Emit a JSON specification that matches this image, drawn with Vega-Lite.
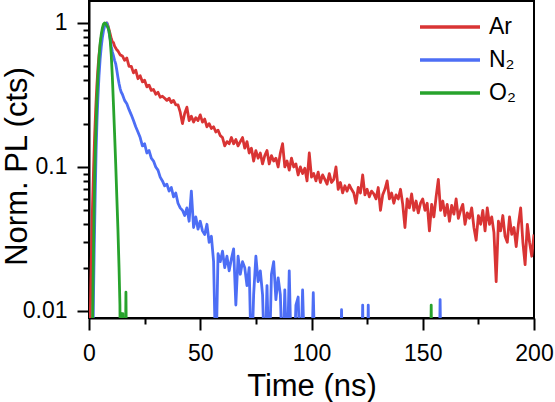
{
  "$schema": "https://vega.github.io/schema/vega-lite/v6.json",
  "width": 445,
  "height": 317,
  "autosize": {"type": "none"},
  "padding": {"left": 89, "top": 1, "right": 21, "bottom": 84},
  "config": {
    "font": "Liberation Sans",
    "view": {"stroke": "#000000", "strokeWidth": 2},
    "axis": {
      "grid": false,
      "domainColor": "#000000",
      "domainWidth": 2,
      "tickColor": "#000000",
      "tickWidth": 2,
      "labelColor": "#000000",
      "labelFontSize": 23,
      "titleColor": "#000000",
      "titleFontSize": 31,
      "titleFontWeight": "normal"
    }
  },
  "data": {"values": [
    {"g":"Ar","t":0,"v":0.003},{"g":"Ar","t":0.4,"v":0.006},{"g":"Ar","t":0.8,"v":0.015},{"g":"Ar","t":1.2,"v":0.03},{"g":"Ar","t":1.6,"v":0.055},{"g":"Ar","t":2,"v":0.09},{"g":"Ar","t":2.5,"v":0.16},{"g":"Ar","t":3,"v":0.25},{"g":"Ar","t":3.5,"v":0.36},{"g":"Ar","t":4,"v":0.48},{"g":"Ar","t":4.5,"v":0.6},{"g":"Ar","t":5,"v":0.7},{"g":"Ar","t":5.5,"v":0.79},{"g":"Ar","t":6,"v":0.87},{"g":"Ar","t":6.5,"v":0.93},{"g":"Ar","t":7,"v":0.97},{"g":"Ar","t":7.5,"v":0.99},{"g":"Ar","t":8,"v":1.0},{"g":"Ar","t":8.5,"v":0.96},{"g":"Ar","t":9,"v":0.9},{"g":"Ar","t":9.5,"v":0.84},{"g":"Ar","t":10,"v":0.78},{"g":"Ar","t":10.5,"v":0.74},{"g":"Ar","t":11,"v":0.73},{"g":"Ar","t":11.5,"v":0.69},{"g":"Ar","t":12,"v":0.67},{"g":"Ar","t":12.5,"v":0.65},{"g":"Ar","t":13,"v":0.64},{"g":"Ar","t":14,"v":0.6},{"g":"Ar","t":15,"v":0.59},{"g":"Ar","t":16,"v":0.55},{"g":"Ar","t":17,"v":0.57},{"g":"Ar","t":18,"v":0.5},{"g":"Ar","t":19,"v":0.5},{"g":"Ar","t":20,"v":0.45},{"g":"Ar","t":21,"v":0.47},{"g":"Ar","t":22,"v":0.41},{"g":"Ar","t":23,"v":0.43},{"g":"Ar","t":24,"v":0.39},{"g":"Ar","t":25,"v":0.4},{"g":"Ar","t":26,"v":0.36},{"g":"Ar","t":27,"v":0.37},{"g":"Ar","t":28,"v":0.34},{"g":"Ar","t":29,"v":0.345},{"g":"Ar","t":30,"v":0.32},{"g":"Ar","t":31,"v":0.33},{"g":"Ar","t":32,"v":0.305},{"g":"Ar","t":33,"v":0.31},{"g":"Ar","t":34,"v":0.3},{"g":"Ar","t":35,"v":0.29},{"g":"Ar","t":36,"v":0.3},{"g":"Ar","t":37,"v":0.28},{"g":"Ar","t":38,"v":0.29},{"g":"Ar","t":39,"v":0.27},{"g":"Ar","t":40,"v":0.27},{"g":"Ar","t":41,"v":0.24},{"g":"Ar","t":42,"v":0.2},{"g":"Ar","t":43,"v":0.235},{"g":"Ar","t":44,"v":0.26},{"g":"Ar","t":45,"v":0.21},{"g":"Ar","t":46,"v":0.225},{"g":"Ar","t":47,"v":0.205},{"g":"Ar","t":48,"v":0.22},{"g":"Ar","t":49,"v":0.21},{"g":"Ar","t":50,"v":0.23},{"g":"Ar","t":51,"v":0.205},{"g":"Ar","t":52,"v":0.215},{"g":"Ar","t":53,"v":0.19},{"g":"Ar","t":54,"v":0.2},{"g":"Ar","t":55,"v":0.185},{"g":"Ar","t":56,"v":0.19},{"g":"Ar","t":57,"v":0.175},{"g":"Ar","t":58,"v":0.18},{"g":"Ar","t":59,"v":0.165},{"g":"Ar","t":60,"v":0.16},{"g":"Ar","t":61,"v":0.14},{"g":"Ar","t":62,"v":0.15},{"g":"Ar","t":63,"v":0.145},{"g":"Ar","t":64,"v":0.16},{"g":"Ar","t":65,"v":0.145},{"g":"Ar","t":66,"v":0.155},{"g":"Ar","t":67,"v":0.14},{"g":"Ar","t":68,"v":0.15},{"g":"Ar","t":69,"v":0.16},{"g":"Ar","t":70,"v":0.135},{"g":"Ar","t":71,"v":0.15},{"g":"Ar","t":72,"v":0.125},{"g":"Ar","t":73,"v":0.135},{"g":"Ar","t":74,"v":0.11},{"g":"Ar","t":75,"v":0.13},{"g":"Ar","t":76,"v":0.115},{"g":"Ar","t":77,"v":0.125},{"g":"Ar","t":78,"v":0.105},{"g":"Ar","t":79,"v":0.12},{"g":"Ar","t":80,"v":0.13},{"g":"Ar","t":81,"v":0.105},{"g":"Ar","t":82,"v":0.12},{"g":"Ar","t":83,"v":0.11},{"g":"Ar","t":84,"v":0.115},{"g":"Ar","t":85,"v":0.1},{"g":"Ar","t":86,"v":0.125},{"g":"Ar","t":87,"v":0.145},{"g":"Ar","t":88,"v":0.1},{"g":"Ar","t":89,"v":0.11},{"g":"Ar","t":90,"v":0.095},{"g":"Ar","t":91,"v":0.115},{"g":"Ar","t":92,"v":0.1},{"g":"Ar","t":93,"v":0.105},{"g":"Ar","t":94,"v":0.088},{"g":"Ar","t":95,"v":0.1},{"g":"Ar","t":96,"v":0.09},{"g":"Ar","t":97,"v":0.098},{"g":"Ar","t":98,"v":0.08},{"g":"Ar","t":99,"v":0.125},{"g":"Ar","t":100,"v":0.085},{"g":"Ar","t":101,"v":0.09},{"g":"Ar","t":102,"v":0.08},{"g":"Ar","t":103,"v":0.092},{"g":"Ar","t":104,"v":0.078},{"g":"Ar","t":105,"v":0.088},{"g":"Ar","t":106,"v":0.082},{"g":"Ar","t":107,"v":0.076},{"g":"Ar","t":108,"v":0.09},{"g":"Ar","t":109,"v":0.078},{"g":"Ar","t":110,"v":0.082},{"g":"Ar","t":111,"v":0.1},{"g":"Ar","t":112,"v":0.07},{"g":"Ar","t":113,"v":0.078},{"g":"Ar","t":114,"v":0.066},{"g":"Ar","t":115,"v":0.074},{"g":"Ar","t":116,"v":0.068},{"g":"Ar","t":117,"v":0.075},{"g":"Ar","t":118,"v":0.07},{"g":"Ar","t":119,"v":0.066},{"g":"Ar","t":120,"v":0.056},{"g":"Ar","t":121,"v":0.072},{"g":"Ar","t":122,"v":0.066},{"g":"Ar","t":123,"v":0.088},{"g":"Ar","t":124,"v":0.064},{"g":"Ar","t":125,"v":0.07},{"g":"Ar","t":126,"v":0.062},{"g":"Ar","t":127,"v":0.068},{"g":"Ar","t":128,"v":0.065},{"g":"Ar","t":129,"v":0.06},{"g":"Ar","t":130,"v":0.072},{"g":"Ar","t":131,"v":0.05},{"g":"Ar","t":132,"v":0.064},{"g":"Ar","t":133,"v":0.07},{"g":"Ar","t":134,"v":0.08},{"g":"Ar","t":135,"v":0.06},{"g":"Ar","t":136,"v":0.066},{"g":"Ar","t":137,"v":0.056},{"g":"Ar","t":138,"v":0.064},{"g":"Ar","t":139,"v":0.06},{"g":"Ar","t":140,"v":0.07},{"g":"Ar","t":141,"v":0.055},{"g":"Ar","t":142,"v":0.038},{"g":"Ar","t":143,"v":0.06},{"g":"Ar","t":144,"v":0.052},{"g":"Ar","t":145,"v":0.065},{"g":"Ar","t":146,"v":0.05},{"g":"Ar","t":147,"v":0.058},{"g":"Ar","t":148,"v":0.048},{"g":"Ar","t":149,"v":0.056},{"g":"Ar","t":150,"v":0.06},{"g":"Ar","t":151,"v":0.05},{"g":"Ar","t":152,"v":0.056},{"g":"Ar","t":153,"v":0.036},{"g":"Ar","t":154,"v":0.055},{"g":"Ar","t":155,"v":0.045},{"g":"Ar","t":156,"v":0.062},{"g":"Ar","t":157,"v":0.082},{"g":"Ar","t":158,"v":0.05},{"g":"Ar","t":159,"v":0.058},{"g":"Ar","t":160,"v":0.046},{"g":"Ar","t":161,"v":0.055},{"g":"Ar","t":162,"v":0.042},{"g":"Ar","t":163,"v":0.054},{"g":"Ar","t":164,"v":0.047},{"g":"Ar","t":165,"v":0.06},{"g":"Ar","t":166,"v":0.044},{"g":"Ar","t":167,"v":0.05},{"g":"Ar","t":168,"v":0.055},{"g":"Ar","t":169,"v":0.04},{"g":"Ar","t":170,"v":0.048},{"g":"Ar","t":171,"v":0.044},{"g":"Ar","t":172,"v":0.052},{"g":"Ar","t":173,"v":0.038},{"g":"Ar","t":174,"v":0.031},{"g":"Ar","t":175,"v":0.046},{"g":"Ar","t":176,"v":0.04},{"g":"Ar","t":177,"v":0.05},{"g":"Ar","t":178,"v":0.036},{"g":"Ar","t":179,"v":0.052},{"g":"Ar","t":180,"v":0.04},{"g":"Ar","t":181,"v":0.045},{"g":"Ar","t":182,"v":0.035},{"g":"Ar","t":183,"v":0.016},{"g":"Ar","t":184,"v":0.042},{"g":"Ar","t":185,"v":0.036},{"g":"Ar","t":186,"v":0.046},{"g":"Ar","t":187,"v":0.033},{"g":"Ar","t":188,"v":0.03},{"g":"Ar","t":189,"v":0.045},{"g":"Ar","t":190,"v":0.034},{"g":"Ar","t":191,"v":0.038},{"g":"Ar","t":192,"v":0.028},{"g":"Ar","t":193,"v":0.04},{"g":"Ar","t":194,"v":0.052},{"g":"Ar","t":195,"v":0.03},{"g":"Ar","t":196,"v":0.021},{"g":"Ar","t":197,"v":0.04},{"g":"Ar","t":198,"v":0.03},{"g":"Ar","t":199,"v":0.024},{"g":"Ar","t":200,"v":0.034},

    {"g":"N₂","t":1.6,"v":0.004},{"g":"N₂","t":2,"v":0.012},{"g":"N₂","t":2.4,"v":0.03},{"g":"N₂","t":2.8,"v":0.065},{"g":"N₂","t":3.2,"v":0.13},{"g":"N₂","t":3.6,"v":0.21},{"g":"N₂","t":4,"v":0.3},{"g":"N₂","t":4.5,"v":0.43},{"g":"N₂","t":5,"v":0.56},{"g":"N₂","t":5.5,"v":0.68},{"g":"N₂","t":6,"v":0.79},{"g":"N₂","t":6.5,"v":0.88},{"g":"N₂","t":7,"v":0.95},{"g":"N₂","t":7.5,"v":0.99},{"g":"N₂","t":8,"v":1.0},{"g":"N₂","t":8.5,"v":0.94},{"g":"N₂","t":9,"v":0.86},{"g":"N₂","t":9.5,"v":0.77},{"g":"N₂","t":10,"v":0.69},{"g":"N₂","t":10.5,"v":0.63},{"g":"N₂","t":11,"v":0.59},{"g":"N₂","t":11.5,"v":0.55},{"g":"N₂","t":12,"v":0.52},{"g":"N₂","t":12.5,"v":0.47},{"g":"N₂","t":13,"v":0.42},{"g":"N₂","t":13.5,"v":0.38},{"g":"N₂","t":14,"v":0.35},{"g":"N₂","t":14.5,"v":0.33},{"g":"N₂","t":15,"v":0.32},{"g":"N₂","t":16,"v":0.29},{"g":"N₂","t":17,"v":0.275},{"g":"N₂","t":18,"v":0.25},{"g":"N₂","t":19,"v":0.23},{"g":"N₂","t":20,"v":0.21},{"g":"N₂","t":21,"v":0.19},{"g":"N₂","t":22,"v":0.175},{"g":"N₂","t":23,"v":0.16},{"g":"N₂","t":24,"v":0.14},{"g":"N₂","t":25,"v":0.145},{"g":"N₂","t":26,"v":0.125},{"g":"N₂","t":27,"v":0.13},{"g":"N₂","t":28,"v":0.115},{"g":"N₂","t":29,"v":0.11},{"g":"N₂","t":30,"v":0.1},{"g":"N₂","t":31,"v":0.095},{"g":"N₂","t":32,"v":0.085},{"g":"N₂","t":33,"v":0.08},{"g":"N₂","t":34,"v":0.074},{"g":"N₂","t":35,"v":0.076},{"g":"N₂","t":36,"v":0.068},{"g":"N₂","t":37,"v":0.072},{"g":"N₂","t":38,"v":0.062},{"g":"N₂","t":39,"v":0.066},{"g":"N₂","t":40,"v":0.056},{"g":"N₂","t":41,"v":0.052},{"g":"N₂","t":42,"v":0.05},{"g":"N₂","t":43,"v":0.046},{"g":"N₂","t":44,"v":0.052},{"g":"N₂","t":45,"v":0.042},{"g":"N₂","t":46,"v":0.068},{"g":"N₂","t":47,"v":0.038},{"g":"N₂","t":48,"v":0.045},{"g":"N₂","t":49,"v":0.037},{"g":"N₂","t":50,"v":0.042},{"g":"N₂","t":51,"v":0.036},{"g":"N₂","t":52,"v":0.034},{"g":"N₂","t":53,"v":0.04},{"g":"N₂","t":54,"v":0.03},{"g":"N₂","t":55,"v":0.033},{"g":"N₂","t":56,"v":0.022},{"g":"N₂","t":57,"v":0.004},{"g":"N₂","t":58,"v":0.025},{"g":"N₂","t":59,"v":0.022},{"g":"N₂","t":60,"v":0.026},{"g":"N₂","t":61,"v":0.02},{"g":"N₂","t":62,"v":0.024},{"g":"N₂","t":63,"v":0.019},{"g":"N₂","t":64,"v":0.023},{"g":"N₂","t":65,"v":0.027},{"g":"N₂","t":66,"v":0.011},{"g":"N₂","t":67,"v":0.024},{"g":"N₂","t":68,"v":0.018},{"g":"N₂","t":69,"v":0.022},{"g":"N₂","t":70,"v":0.02},{"g":"N₂","t":71,"v":0.015},{"g":"N₂","t":72,"v":0.02},{"g":"N₂","t":73,"v":0.004},{"g":"N₂","t":74,"v":0.013},{"g":"N₂","t":75,"v":0.024},{"g":"N₂","t":76,"v":0.016},{"g":"N₂","t":77,"v":0.019},{"g":"N₂","t":78,"v":0.013},{"g":"N₂","t":79,"v":0.004},{"g":"N₂","t":80,"v":0.015},{"g":"N₂","t":81,"v":0.004},{"g":"N₂","t":82,"v":0.018},{"g":"N₂","t":83,"v":0.022},{"g":"N₂","t":84,"v":0.012},{"g":"N₂","t":85,"v":0.017},{"g":"N₂","t":86,"v":0.013},{"g":"N₂","t":87,"v":0.004},{"g":"N₂","t":88,"v":0.014},{"g":"N₂","t":89,"v":0.004},{"g":"N₂","t":90,"v":0.019},{"g":"N₂","t":91,"v":0.004},{"g":"N₂","t":92,"v":0.004},{"g":"N₂","t":93,"v":0.011},{"g":"N₂","t":94,"v":0.0125},{"g":"N₂","t":95,"v":0.004},{"g":"N₂","t":96,"v":0.014},{"g":"N₂","t":97,"v":0.004},{"g":"N₂","t":100,"v":0.004},{"g":"N₂","t":100.8,"v":0.0134},{"g":"N₂","t":101.6,"v":0.004},{"g":"N₂","t":113,"v":0.004},{"g":"N₂","t":113.5,"v":0.0102},{"g":"N₂","t":114,"v":0.004},{"g":"N₂","t":122.6,"v":0.004},{"g":"N₂","t":123,"v":0.011},{"g":"N₂","t":123.4,"v":0.004},{"g":"N₂","t":125.1,"v":0.004},{"g":"N₂","t":125.5,"v":0.011},{"g":"N₂","t":125.9,"v":0.004},{"g":"N₂","t":157.4,"v":0.004},{"g":"N₂","t":157.8,"v":0.012},{"g":"N₂","t":158.2,"v":0.004},{"g":"N₂","t":200,"v":0.004},

    {"g":"O₂","t":1.4,"v":0.004},{"g":"O₂","t":1.8,"v":0.015},{"g":"O₂","t":2.2,"v":0.04},{"g":"O₂","t":2.6,"v":0.09},{"g":"O₂","t":3,"v":0.16},{"g":"O₂","t":3.5,"v":0.28},{"g":"O₂","t":4,"v":0.42},{"g":"O₂","t":4.5,"v":0.57},{"g":"O₂","t":5,"v":0.72},{"g":"O₂","t":5.5,"v":0.83},{"g":"O₂","t":6,"v":0.92},{"g":"O₂","t":6.5,"v":0.98},{"g":"O₂","t":7,"v":1.0},{"g":"O₂","t":7.5,"v":0.99},{"g":"O₂","t":8,"v":0.96},{"g":"O₂","t":8.5,"v":0.93},{"g":"O₂","t":9,"v":0.88},{"g":"O₂","t":9.5,"v":0.77},{"g":"O₂","t":10,"v":0.6},{"g":"O₂","t":10.5,"v":0.42},{"g":"O₂","t":11,"v":0.27},{"g":"O₂","t":11.5,"v":0.17},{"g":"O₂","t":12,"v":0.105},{"g":"O₂","t":12.5,"v":0.062},{"g":"O₂","t":13,"v":0.037},{"g":"O₂","t":13.5,"v":0.02},{"g":"O₂","t":13.9,"v":0.011},{"g":"O₂","t":14.1,"v":0.004},{"g":"O₂","t":14.4,"v":0.004},{"g":"O₂","t":14.6,"v":0.0096},{"g":"O₂","t":15.2,"v":0.0096},{"g":"O₂","t":15.4,"v":0.004},{"g":"O₂","t":16.3,"v":0.004},{"g":"O₂","t":16.6,"v":0.0135},{"g":"O₂","t":16.9,"v":0.004},{"g":"O₂","t":153.5,"v":0.004},{"g":"O₂","t":153.8,"v":0.011},{"g":"O₂","t":154.1,"v":0.004},{"g":"O₂","t":200,"v":0.004}
  ]},
  "mark": {"type": "line", "clip": true, "strokeWidth": 2.8, "strokeJoin": "round"},
  "encoding": {
    "x": {
      "field": "t", "type": "quantitative",
      "scale": {"domain": [0, 200], "nice": false, "zero": false},
      "axis": {
        "title": "Time (ns)",
        "values": [0, 25, 50, 75, 100, 125, 150, 175, 200],
        "labelExpr": "datum.value % 50 === 0 ? datum.label : ''",
        "tickSize": {"condition": {"test": "datum.value % 50 === 0", "value": 12}, "value": 6},
        "labelPadding": 12,
        "labelFlush": false,
        "labelOverlap": false,
        "titleBaseline": "alphabetic",
        "titleY": 77
      }
    },
    "y": {
      "field": "v", "type": "quantitative",
      "scale": {"type": "log", "domain": [0.00894, 1.42], "nice": false},
      "axis": {
        "title": "Norm. PL (cts)",
        "values": [0.01, 0.02, 0.03, 0.04, 0.05, 0.06, 0.07, 0.08, 0.09, 0.1, 0.2, 0.3, 0.4, 0.5, 0.6, 0.7, 0.8, 0.9, 1],
        "labelExpr": "indexof([0.01, 0.1, 1], datum.value) >= 0 ? (datum.value === 1 ? '1' : datum.value === 0.1 ? '0.1' : '0.01') : ''",
        "tickSize": {"condition": {"test": "indexof([0.01, 0.1, 1], datum.value) >= 0", "value": 12}, "value": 6},
        "labelPadding": 10,
        "labelOverlap": false,
        "labelFlush": false,
        "titleBaseline": "alphabetic",
        "titleAngle": 270,
        "titleX": -63,
        "titleY": 165
      }
    },
    "color": {
      "field": "g", "type": "nominal",
      "scale": {"domain": ["Ar", "N₂", "O₂"], "range": ["#d93434", "#4d6ef5", "#27a32c"]},
      "legend": {
        "title": null,
        "orient": "none",
        "legendX": 349,
        "legendY": 14,
        "symbolType": "M-3,0H3",
        "symbolSize": 400,
        "symbolStrokeWidth": 3.5,
        "symbolFillColor": "transparent",
        "labelFontSize": 23,
        "labelColor": "#000000",
        "labelOffset": 27,
        "rowPadding": 9,
        "padding": 0
      }
    }
  }
}
